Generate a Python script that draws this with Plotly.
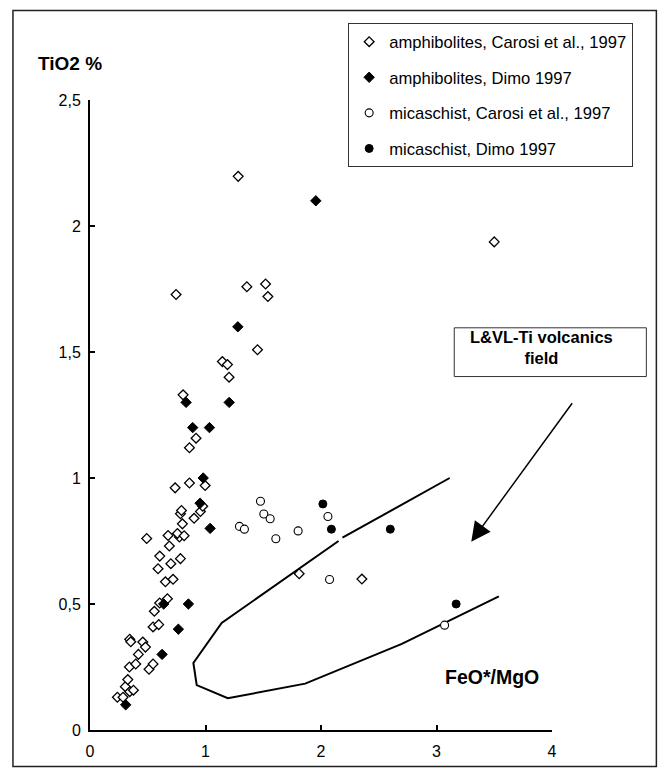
import plotly.graph_objects as go

# ---- data ----
amph_carosi_x = [0.237, 0.286, 0.306, 0.344, 0.376, 0.327, 0.341, 0.396, 0.419, 0.344, 0.353, 0.457,
                 0.48, 0.511, 0.546, 0.546, 0.595, 0.557, 0.603, 0.67, 0.653, 0.719, 0.589, 0.70,
                 0.783, 0.604, 0.687, 0.491, 0.676, 0.774, 0.757, 0.815, 0.80, 0.901, 0.783, 0.792,
                 0.956, 0.976, 0.737, 0.861, 0.997, 0.861, 0.918, 0.806, 1.204, 1.146, 1.19, 1.45,
                 0.745, 1.358, 1.52, 1.54, 1.283, 3.50, 1.811, 2.354]
amph_carosi_y = [0.13, 0.13, 0.172, 0.152, 0.158, 0.20, 0.25, 0.262, 0.30, 0.36, 0.35, 0.349,
                 0.329, 0.241, 0.262, 0.409, 0.418, 0.471, 0.504, 0.521, 0.588, 0.598, 0.64, 0.66,
                 0.68, 0.69, 0.73, 0.76, 0.772, 0.766, 0.78, 0.771, 0.818, 0.84, 0.858, 0.871,
                 0.867, 0.888, 0.961, 0.98, 0.97, 1.12, 1.158, 1.33, 1.40, 1.462, 1.45, 1.509,
                 1.728, 1.759, 1.77, 1.72, 2.197, 1.937, 0.62, 0.599]

amph_dimo_x = [0.309, 0.624, 0.765, 0.638, 0.852, 1.04, 0.953, 0.98, 0.889, 1.034, 0.832, 1.205, 1.28, 1.955]
amph_dimo_y = [0.10, 0.30, 0.40, 0.50, 0.50, 0.80, 0.90, 1.00, 1.20, 1.20, 1.30, 1.30, 1.60, 2.10]

mica_carosi_x = [1.294, 1.337, 1.476, 1.505, 1.56, 1.609, 1.802, 2.06, 2.074, 3.07]
mica_carosi_y = [0.808, 0.797, 0.908, 0.857, 0.838, 0.759, 0.79, 0.847, 0.597, 0.416]

mica_dimo_x = [2.016, 2.09, 2.6, 3.17]
mica_dimo_y = [0.897, 0.797, 0.797, 0.50]

# L&VL-Ti volcanics field outline (gap shown with None)
field_x = [3.114, 2.186, None, 2.152, 1.14, 0.895, 0.924, 1.193, 1.863, 2.70, 3.54]
field_y = [1.00, 0.763, None, 0.75, 0.425, 0.266, 0.178, 0.126, 0.184, 0.342, 0.53]

x_ticks = [0, 1, 2, 3, 4]
x_tick_labels = ["0", "1", "2", "3", "4"]
y_ticks = [0, 0.5, 1, 1.5, 2, 2.5]
y_tick_labels = ["0", "0,5", "1", "1,5", "2", "2,5"]

# ---- layout geometry (pixels) ----
W, H = 661, 772
PL, PR, PT, PB = 90, 551.7, 100, 733.3


def px(xp):
    return (xp - PL) / (PR - PL)


def py(yp):
    return (PB - yp) / (PB - PT)


FONT = "Arial, Liberation Sans, sans-serif"

fig = go.Figure()

fig.add_trace(go.Scatter(
    x=field_x, y=field_y, mode="lines", line=dict(color="black", width=2),
    showlegend=False, hoverinfo="skip", connectgaps=False))

fig.add_trace(go.Scatter(
    x=amph_carosi_x, y=amph_carosi_y, mode="markers",
    name="amphibolites, Carosi et al., 1997", legendgroup="a",
    marker=dict(symbol="diamond", size=7.5, color="white", line=dict(color="black", width=1.3))))
fig.add_trace(go.Scatter(
    x=amph_dimo_x, y=amph_dimo_y, mode="markers",
    name="amphibolites, Dimo 1997", legendgroup="b",
    marker=dict(symbol="diamond", size=8, color="black", line=dict(color="black", width=1))))
fig.add_trace(go.Scatter(
    x=mica_carosi_x, y=mica_carosi_y, mode="markers",
    name="micaschist, Carosi et al., 1997", legendgroup="c",
    marker=dict(symbol="circle", size=8, color="white", line=dict(color="black", width=1.1))))
fig.add_trace(go.Scatter(
    x=mica_dimo_x, y=mica_dimo_y, mode="markers",
    name="micaschist, Dimo 1997", legendgroup="d",
    marker=dict(symbol="circle", size=8, color="black", line=dict(color="black", width=1))))

axis_common = dict(showgrid=False, zeroline=False, showline=True, linecolor="black", linewidth=2,
                   ticks="inside", ticklen=5, tickwidth=2, tickcolor="black",
                   tickfont=dict(family=FONT, size=16, color="black"), fixedrange=True)

fig.update_layout(
    width=W, height=H,
    margin=dict(l=PL, r=W - PR, t=PT, b=H - PB, pad=0),
    paper_bgcolor="white", plot_bgcolor="white",
    font=dict(family=FONT, color="black"),
    xaxis=dict(range=[0, 4], tickvals=x_ticks, ticktext=x_tick_labels, ticklabelstandoff=6, **axis_common),
    yaxis=dict(range=[0, 2.5], tickvals=y_ticks, ticktext=y_tick_labels, ticklabelstandoff=4, **axis_common),
    legend=dict(x=px(348), y=py(23), xanchor="left", yanchor="top",
                bgcolor="white", bordercolor="#333333", borderwidth=1,
                font=dict(family=FONT, size=16.6, color="black"),
                tracegroupgap=11, itemsizing="trace"),
    shapes=[
        dict(type="rect", xref="paper", yref="paper",
             x0=px(13), x1=px(656), y0=py(770), y1=py(10),
             line=dict(color="#222222", width=1.5), layer="below"),
        dict(type="rect", xref="paper", yref="paper",
             x0=px(454), x1=px(646), y0=py(378), y1=py(329),
             line=dict(color="#333333", width=1), fillcolor="white", layer="above"),
    ],
    annotations=[
        dict(xref="paper", yref="paper", x=px(70), y=py(63), text="<b>TiO2 %</b>",
             showarrow=False, font=dict(family=FONT, size=19, color="black"),
             xanchor="center", yanchor="middle"),
        dict(xref="paper", yref="paper", x=px(492), y=py(680), text="<b>FeO*/MgO</b>",
             showarrow=False, font=dict(family=FONT, size=19.5, color="black"),
             xanchor="center", yanchor="middle"),
        dict(xref="paper", yref="paper", x=px(541), y=py(349),
             text="<b>L&amp;VL-Ti volcanics<br>field</b>",
             showarrow=False, font=dict(family=FONT, size=16.5, color="black"),
             align="center", xanchor="center", yanchor="middle"),
        dict(xref="paper", yref="paper", x=px(471), y=py(544), ax=102, ay=-140,
             axref="pixel", ayref="pixel", text="", showarrow=True,
             arrowhead=2, arrowsize=2.6, arrowwidth=1.5, arrowcolor="black", standoff=0),
    ],
)

fig.write_html("out.html")
